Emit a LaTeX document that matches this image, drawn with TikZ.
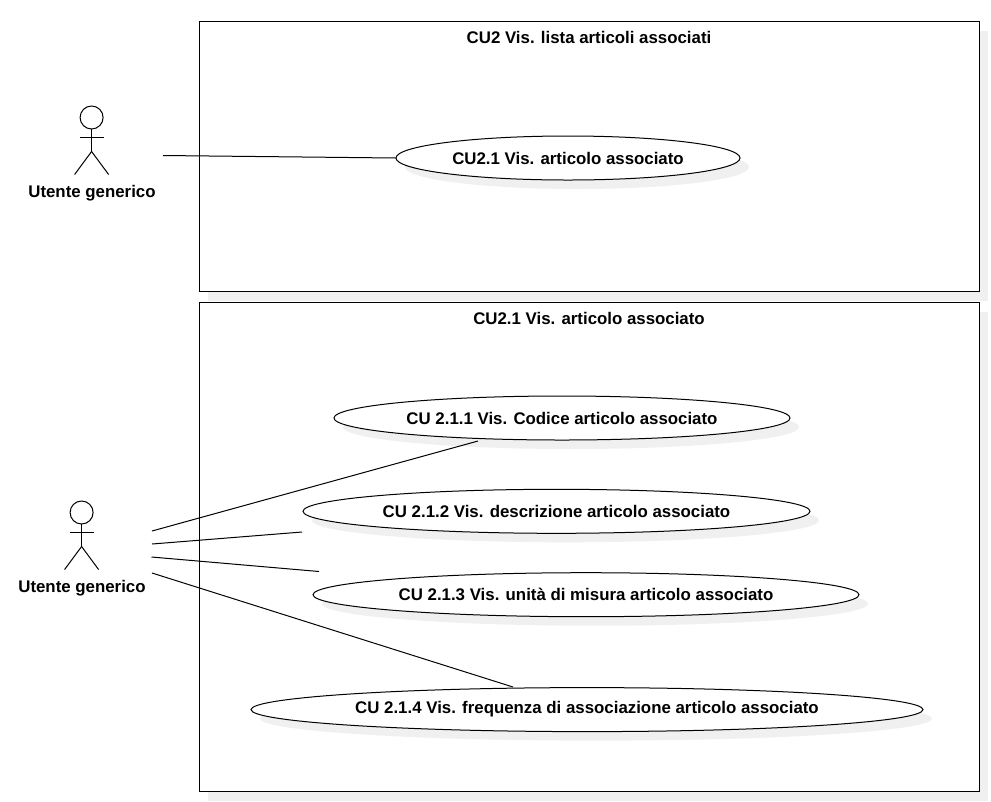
\documentclass[tikz,border=0pt]{standalone}
\usepackage{fontspec}
\setmainfont{Liberation Sans}
\usetikzlibrary{positioning}
\usetikzlibrary{shapes.geometric,shadows}
\definecolor{shadowgrey}{HTML}{F0F0F0}
\tikzset{
	grey shadow/.style={drop shadow={shadow xshift=6.75pt,shadow yshift=-6.75pt,fill=shadowgrey,opacity=1}},
	every node/.style={font=\fontsize{12.63}{14}\selectfont\bfseries,inner sep=0pt,outer sep=0pt},
	sysbox/.style={draw,fill=white,line width=0.75pt,grey shadow},
	usecase/.style={draw,fill=white,ellipse,line width=0.75pt,grey shadow},
	assoc/.style={line width=0.75pt},
	pics/stickman/.style={code={
		\node[draw,circle,fill=white,minimum size=17.25pt,line width=0.75pt] (-head) at (0,0) {};
		\coordinate (-hip) at (0,34);
		\draw[assoc] (-head) -- (-hip);
		\draw[assoc] (-12,19.5) -- (12,19.5);
		\draw[assoc] (-hip) -- (-17,57);
		\draw[assoc] (-hip) -- (17,57);
	}}
}

\begin{document}
\begin{tikzpicture}[x=0.75pt,y=-0.75pt]
	\useasboundingbox (0,0) rectangle (991,801);

	\node[sysbox,minimum width=585pt,minimum height=202.5pt] (top) at (589,156.8) {};
	\node[sysbox,minimum width=585pt,minimum height=366.75pt] (bottom) at (589,547.3) {};
	\node at (589,37.5) (toptitle) {CU2 Vis. lista articoli associati};
	\node at (589,318.5) (bottomtitle) {CU2.1 Vis. articolo associato};

	\pic (actorA) at (91.6,117.5) {stickman};
	\node at (92,193.3) (actorAlabel) {Utente generico};
	\pic (actorB) at (81.6,512.5) {stickman};
	\node at (82,588.3) (actorBlabel) {Utente generico};

	\node[usecase,minimum width=258pt,minimum height=33pt] at (568,158) (uc) {CU2.1 Vis. articolo associato};
	\node[usecase,minimum width=342pt,minimum height=33pt] at (562,418) (ucA) {CU 2.1.1 Vis. Codice articolo associato};
	\node[usecase,minimum width=380.25pt,minimum height=33pt] at (556.5,511.3) (ucB) {CU 2.1.2 Vis. descrizione articolo associato};
	\node[usecase,minimum width=409.5pt,minimum height=33pt] at (586,594.7) (ucC) {CU 2.1.3 Vis. unità di misura articolo associato};
	\node[usecase,minimum width=504pt,minimum height=33pt] at (587,709.6) (ucD) {CU 2.1.4 Vis. frequenza di associazione articolo associato};

	\coordinate (fromA) at (163,155.5);
	\coordinate (fromB1) at (152,531);
	\coordinate (fromB2) at (152,544);
	\coordinate (fromB3) at (151.5,557);
	\coordinate (fromB4) at (152,573);
	\coordinate (toA) at (478,441);
	\coordinate (toB) at (302,532);
	\coordinate (toC) at (319,571.5);
	\coordinate (toD) at (513,687);

	\draw[assoc] (fromA) -- (uc.west);
	\draw[assoc] (fromB1) -- (toA);
	\draw[assoc] (fromB2) -- (toB);
	\draw[assoc] (fromB3) -- (toC);
	\draw[assoc] (fromB4) -- (toD);
\end{tikzpicture}
\end{document}
